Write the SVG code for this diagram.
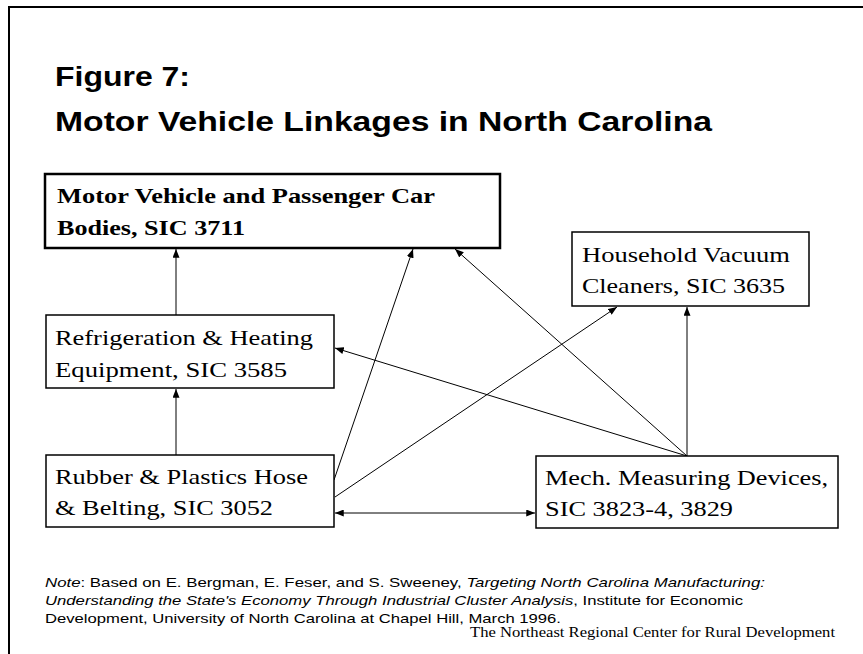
<svg xmlns="http://www.w3.org/2000/svg" width="863" height="654" viewBox="0 0 863 654">
<style>
.title{font-family:"Liberation Sans",Arial,sans-serif;font-weight:bold;font-size:28px;fill:#000}
.box{fill:#fff;stroke:#000;stroke-width:1.5}
.boxb{fill:#fff;stroke:#000;stroke-width:2.5}
.nt{font-family:"Liberation Serif","Times New Roman",serif;font-size:22px;fill:#000}
.ntb{font-family:"Liberation Serif","Times New Roman",serif;font-size:22px;font-weight:bold;fill:#000}
.note{font-family:"Liberation Sans",Arial,sans-serif;font-size:13px;fill:#000}
.credit{font-family:"Liberation Serif","Times New Roman",serif;font-size:14px;fill:#000}
.it{font-style:italic}
.conn line{stroke:#000;stroke-width:1;fill:none;marker-end:url(#ah)}
</style>
<defs>
<marker id="ah" viewBox="0 0 10 8" refX="10" refY="4" markerWidth="9" markerHeight="7" markerUnits="userSpaceOnUse" orient="auto-start-reverse">
<path d="M0,0 L10,4 L0,8 z" fill="#000"/>
</marker>
</defs>
<rect width="863" height="654" fill="#fff"/>
<rect x="9" y="7" width="900" height="700" fill="none" stroke="#000" stroke-width="2"/>
<text class="title" x="55" y="86" textLength="135" lengthAdjust="spacingAndGlyphs">Figure 7:</text>
<text class="title" x="55" y="131" textLength="657" lengthAdjust="spacingAndGlyphs">Motor Vehicle Linkages in North Carolina</text>

<g id="conns" class="conn">
<line x1="176" y1="315" x2="176" y2="249"/>
<line x1="176" y1="455" x2="176" y2="389"/>
<line x1="334" y1="480" x2="413" y2="249"/>
<line x1="335" y1="497" x2="617" y2="307"/>
<line x1="687" y1="456" x2="455" y2="249"/>
<line x1="687" y1="456" x2="335" y2="348"/>
<line x1="687" y1="456" x2="687" y2="307"/>
<line x1="335" y1="513" x2="535" y2="513" style="marker-start:url(#ah)"/>
</g>

<g id="n3711">
<rect class="boxb" x="45" y="174" width="455" height="74"/>
<text class="ntb" x="57" y="203" textLength="378" lengthAdjust="spacingAndGlyphs">Motor Vehicle and Passenger Car</text>
<text class="ntb" x="57" y="235" textLength="188" lengthAdjust="spacingAndGlyphs">Bodies, SIC 3711</text>
</g>
<g id="n3635">
<rect class="box" x="572" y="232" width="237" height="74"/>
<text class="nt" x="582" y="262" textLength="208" lengthAdjust="spacingAndGlyphs">Household Vacuum</text>
<text class="nt" x="582" y="293" textLength="203" lengthAdjust="spacingAndGlyphs">Cleaners, SIC 3635</text>
</g>
<g id="n3585">
<rect class="box" x="46" y="315" width="288" height="73"/>
<text class="nt" x="55" y="345" textLength="258" lengthAdjust="spacingAndGlyphs">Refrigeration &amp; Heating</text>
<text class="nt" x="55" y="377" textLength="232" lengthAdjust="spacingAndGlyphs">Equipment, SIC 3585</text>
</g>
<g id="n3052">
<rect class="box" x="46" y="455" width="288" height="72"/>
<text class="nt" x="55" y="484" textLength="253" lengthAdjust="spacingAndGlyphs">Rubber &amp; Plastics Hose</text>
<text class="nt" x="55" y="515" textLength="218" lengthAdjust="spacingAndGlyphs">&amp; Belting, SIC 3052</text>
</g>
<g id="n3823">
<rect class="box" x="536" y="456" width="302" height="72"/>
<text class="nt" x="545" y="485" textLength="283" lengthAdjust="spacingAndGlyphs">Mech. Measuring Devices,</text>
<text class="nt" x="545" y="516" textLength="188" lengthAdjust="spacingAndGlyphs">SIC 3823-4, 3829</text>
</g>

<text class="note" x="45" y="587" textLength="720" lengthAdjust="spacingAndGlyphs"><tspan class="it">Note</tspan>: Based on E. Bergman, E. Feser, and S. Sweeney, <tspan class="it">Targeting North Carolina Manufacturing:</tspan></text>
<text class="note" x="45" y="605" textLength="698" lengthAdjust="spacingAndGlyphs"><tspan class="it">Understanding the State's Economy Through Industrial Cluster Analysis</tspan>, Institute for Economic</text>
<text class="note" x="45" y="623" textLength="516" lengthAdjust="spacingAndGlyphs">Development, University of North Carolina at Chapel Hill, March 1996.</text>
<text class="credit" x="470" y="637" textLength="365" lengthAdjust="spacingAndGlyphs">The Northeast Regional Center for Rural Development</text>
</svg>
